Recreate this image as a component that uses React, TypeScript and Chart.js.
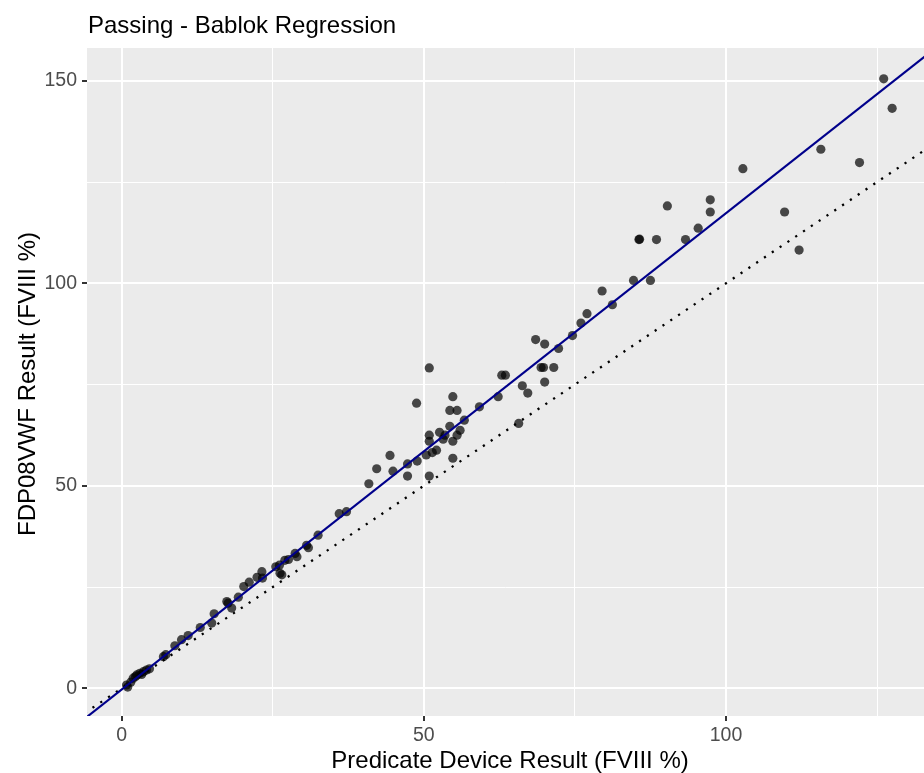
import React, { useEffect, useRef } from 'react';
import { Chart, registerables } from 'chart.js';
Chart.register(...registerables);

// Predicate device result (x) and FDP08VWF result (y), FVIII %
const predicate = [
  126.1, 127.5, 115.7, 122.1, 102.8, 109.7, 112.1, 97.4, 97.4, 95.4,
  93.3, 90.3, 85.6, 85.7, 88.5, 84.7, 87.5, 79.5, 81.2, 77.0,
  76.0, 74.6, 68.5, 70.0, 72.3, 69.4, 69.8, 71.5, 62.9, 63.5,
  70.0, 66.3, 67.2, 62.3, 59.2, 65.7, 50.9, 54.8, 48.8, 54.3,
  55.5, 56.7, 54.3, 56.0, 52.6, 50.9, 53.5, 55.5, 53.2, 54.8,
  50.9, 52.1, 51.4, 50.4, 44.4, 48.9, 47.3, 54.8, 42.2, 44.9,
  47.3, 50.9, 40.9, 36.0, 37.2, 32.5, 30.6, 30.9, 29.0, 28.7,
  27.6, 27.0, 26.1, 25.5, 26.5, 26.2, 23.2, 23.3, 22.4, 21.1,
  20.2, 19.3, 17.4, 17.6, 18.2, 15.3, 14.9, 13.0, 11.0, 9.9,
  8.8, 7.3, 6.9, 0.8, 1.0, 1.5, 1.9, 2.3, 2.5, 3.0,
  3.3, 3.6, 4.1, 4.6,
];
const fdp = [
  150.5, 143.2, 133.1, 129.8, 128.3, 117.6, 108.2, 120.6, 117.6, 113.6,
  110.8, 119.1, 110.8, 110.9, 110.8, 100.7, 100.7, 98.1, 94.7, 92.5,
  90.2, 87.1, 86.1, 85.0, 83.9, 79.2, 79.2, 79.2, 77.3, 77.3,
  75.6, 74.7, 72.9, 72.0, 69.5, 65.4, 79.1, 72.0, 70.4, 68.6,
  68.6, 66.2, 64.7, 63.7, 63.2, 62.5, 62.5, 62.5, 61.5, 61.0,
  61.0, 58.8, 58.2, 57.6, 57.5, 56.1, 55.4, 56.8, 54.2, 53.6,
  52.4, 52.4, 50.5, 43.1, 43.6, 37.8, 35.3, 34.7, 32.5, 33.3,
  31.8, 31.6, 30.4, 30.0, 28.0, 28.4, 28.8, 27.2, 27.4, 26.2,
  25.1, 22.5, 21.4, 21.0, 19.8, 18.4, 16.1, 15.0, 13.0, 12.0,
  10.5, 8.3, 7.8, 0.8, 0.3, 1.5, 2.5, 2.9, 3.3, 3.7,
  3.4, 4.1, 4.5, 4.8,
];

// Passing-Bablok fit and identity line
const regSlope = 1.176;
const regIntercept = -0.3;
const identitySlope = 1;
const identityIntercept = 0;
const lineXs = [-10, 140];

const xGrid = [0, 25, 50, 75, 100, 125];
const xLabels = [0, 50, 100];
const yGrid = [0, 25, 50, 75, 100, 125, 150];
const yLabels = [0, 50, 100, 150];

const titleText = 'Passing - Bablok Regression';
const xTitle = 'Predicate Device Result (FVIII %)';
const yTitle = 'FDP08VWF Result (FVIII %)';

const FONT = '"Liberation Sans", Arial, sans-serif';

const textPlugin = {
  id: 'ggText',
  beforeDraw(chart: any) {
    const { ctx, chartArea } = chart;
    ctx.save();
    ctx.fillStyle = '#EBEBEB';
    ctx.fillRect(chartArea.left, chartArea.top, chartArea.right - chartArea.left, chartArea.bottom - chartArea.top);
    ctx.restore();
  },
  afterDraw(chart: any) {
    const { ctx, chartArea } = chart;
    ctx.save();
    ctx.fillStyle = '#000000';
    ctx.font = `24px ${FONT}`;
    ctx.textBaseline = 'alphabetic';
    ctx.textAlign = 'left';
    ctx.fillText(titleText, chartArea.left + 1, 33);
    ctx.textAlign = 'center';
    ctx.fillText(xTitle, 510, 768);
    ctx.translate(35, (chartArea.top + chartArea.bottom) / 2 + 2);
    ctx.rotate(-Math.PI / 2);
    ctx.fillText(yTitle, 0, 0);
    ctx.restore();
  },
};

export default function App() {
  const ref = useRef<HTMLCanvasElement | null>(null);
  useEffect(() => {
    document.body.style.margin = '0';
    const canvas = ref.current!;
    const points = predicate.map((x, i) => ({ x, y: fdp[i] }));
    const regLine = lineXs.map((x) => ({ x, y: regIntercept + regSlope * x }));
    const idLine = lineXs.map((x) => ({ x, y: identityIntercept + identitySlope * x }));
    const major = (vals: number[]) => (c: any) => vals.includes(c.tick?.value);
    const isMajX = major(xLabels);
    const isMajY = major(yLabels);
    const chart = new Chart(canvas, {
      type: 'scatter',
      data: {
        datasets: [
          {
            data: regLine,
            showLine: true,
            borderColor: '#00008B',
            borderWidth: 2.2,
            pointRadius: 0,
            order: 0,
          },
          {
            data: idLine,
            showLine: true,
            borderColor: '#000000',
            borderWidth: 2.3,
            borderDash: [2.2, 7.2],
            pointRadius: 0,
            order: 1,
          },
          {
            data: points,
            backgroundColor: 'rgba(0,0,0,0.7)',
            borderWidth: 0,
            pointRadius: 4.6,
            order: 2,
          },
        ],
      },
      options: {
        responsive: false,
        animation: false,
        layout: { autoPadding: false, padding: { top: 48, left: 0, right: 0, bottom: 0 } },
        plugins: { legend: { display: false }, tooltip: { enabled: false }, title: { display: false } },
        scales: {
          x: {
            type: 'linear',
            min: -5.74,
            max: 132.77,
            afterBuildTicks: (s: any) => { s.ticks = xGrid.map((v) => ({ value: v })); },
            afterFit: (s: any) => { s.height = 57; s.paddingRight = 0; s.paddingLeft = 0; },
            border: { display: false },
            grid: {
              color: '#FFFFFF',
              lineWidth: (c: any) => (isMajX(c) ? 2 : 1),
              tickColor: (c: any) => (isMajX(c) ? '#333333' : 'rgba(0,0,0,0)'),
              tickWidth: 2,
              tickLength: 5,
            },
            ticks: {
              autoSkip: false,
              maxRotation: 0,
              padding: 3,
              color: '#4D4D4D',
              font: { family: FONT, size: 19.5 },
              callback: (v: any) => (xLabels.includes(Number(v)) ? String(v) : ''),
            },
          },
          y: {
            type: 'linear',
            min: -6.85,
            max: 158.1,
            afterBuildTicks: (s: any) => { s.ticks = yGrid.map((v) => ({ value: v })); },
            afterFit: (s: any) => { s.width = 87; },
            border: { display: false },
            grid: {
              color: '#FFFFFF',
              lineWidth: (c: any) => (isMajY(c) ? 2 : 1),
              tickColor: (c: any) => (isMajY(c) ? '#333333' : 'rgba(0,0,0,0)'),
              tickWidth: 2,
              tickLength: 5,
            },
            ticks: {
              autoSkip: false,
              padding: 5,
              color: '#4D4D4D',
              font: { family: FONT, size: 19.5 },
              callback: (v: any) => (yLabels.includes(Number(v)) ? String(v) : ''),
            },
          },
        },
      },
      plugins: [textPlugin],
    });
    return () => chart.destroy();
  }, []);
  return (
    <div style={{ position: 'absolute', left: 0, top: 0, width: 924, height: 773, background: '#FFFFFF' }}>
      <canvas ref={ref} width={924} height={773} style={{ display: 'block', width: 924, height: 773 }} />
    </div>
  );
}
